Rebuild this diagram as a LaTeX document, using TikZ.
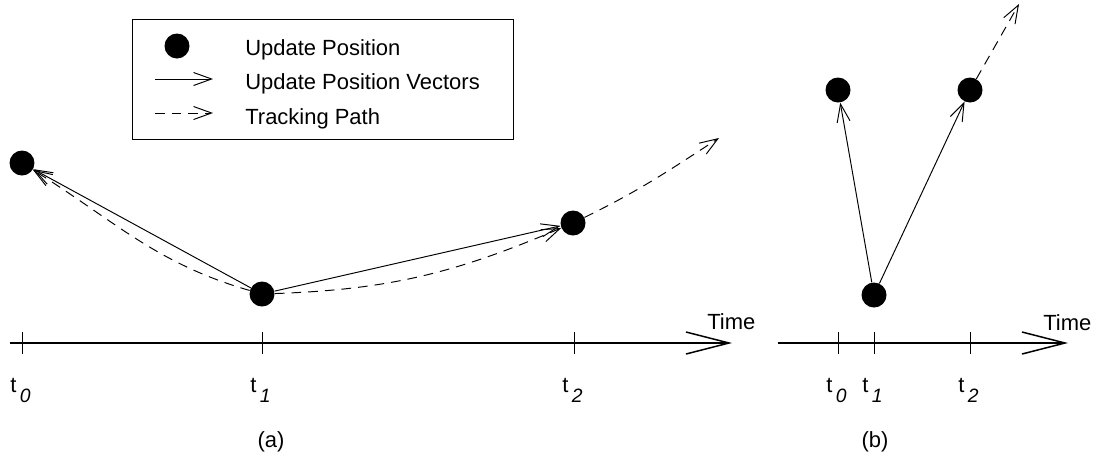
\documentclass[tikz,border=0pt]{standalone}
\usepackage{fontspec}
\setmainfont{Liberation Sans}
\usetikzlibrary{arrows.meta}

\begin{document}
\begin{tikzpicture}[
    x=0.02cm, y=-0.02cm,
    font=\fontsize{12.5}{15}\selectfont,
    dot/.style={circle, fill=black, inner sep=0pt, minimum size=0.5cm},
    vec/.style={-{Straight Barb[length=0.36cm, width=0.26cm]}, line width=0.55pt},
    track/.style={vec, dash pattern=on 5.5pt off 4pt},
    axis/.style={-{Straight Barb[length=0.86cm, width=0.44cm]}, line width=0.85pt},
    tick/.style={line width=0.55pt},
    leg/.style={anchor=base west, inner sep=0pt},
    tlabel/.style={anchor=base west, inner sep=0pt},
    figcap/.style={anchor=base, inner sep=0pt},
]
    \useasboundingbox (0,0) rectangle (1094,461);
    \newcommand{\tsub}[1]{t\kern2pt\raisebox{-6pt}{\fontsize{11}{13}\selectfont\itshape #1}}

    %==================== LEGEND ====================
    \node[draw, line width=0.55pt, minimum width=7.62cm, minimum height=2.4cm, anchor=north west,
          inner sep=0pt] (legend) at (132,19) {};
    \node[dot] (legdot) at (177,46) {};
    \coordinate (legvA) at (155,79);  \coordinate (legvB) at (213,79);
    \coordinate (legtA) at (155,113); \coordinate (legtB) at (213,113);
    \draw[vec] (legvA) -- (legvB);
    \draw[track] (legtA) -- (legtB);
    \node[leg] (legtxt1) at (245,55) {Update Position};
    \node[leg] (legtxt2) at (245,89.5) {Update Position Vectors};
    \node[leg] (legtxt3) at (245,124) {Tracking Path};

    %==================== (a) ====================
    \node[dot] (a0) at (22,163) {};
    \node[dot] (a1) at (262,294) {};
    \node[dot] (a2) at (573,223) {};
    \coordinate (aend) at (719,138);

    \draw[vec] (a1) -- (a0);
    \draw[vec] (a1) -- (a2);
    \draw[track] (a1) to[out=164, in=-32] (a0);
    \draw[track] (a1) to[out=2, in=-157] (a2);
    \draw[track] (a2) to[out=26, in=-147] (aend);

    % time axis
    \coordinate (axa0) at (10,343);
    \coordinate (axa1) at (732,343);
    \draw[axis] (axa0) -- (axa1);
    \node[tlabel] (timea) at (707,329) {Time};
    \foreach \x/\n in {22/0, 262/1, 574/2} {
        \draw[tick] (\x,332) -- (\x,354);
        \node[tlabel] (ta\n) at (\x-12,392) {\tsub{\n}};
    }
    \node[figcap] (capa) at (271,447) {(a)};

    %==================== (b) ====================
    \node[dot] (b0) at (838,90) {};
    \node[dot] (b1) at (874,295) {};
    \node[dot] (b2) at (970,90) {};
    \coordinate (bend) at (1019,4);

    \draw[vec] (b1) -- (b0);
    \draw[vec] (b1) -- (b2);
    \draw[track] (b2) -- (bend);

    % time axis
    \coordinate (axb0) at (778,343);
    \coordinate (axb1) at (1068,343);
    \draw[axis] (axb0) -- (axb1);
    \node[tlabel] (timeb) at (1043,330) {Time};
    \foreach \x/\n in {838/0, 874/1, 970/2} {
        \draw[tick] (\x,332) -- (\x,354);
        \node[tlabel] (tb\n) at (\x-12,392) {\tsub{\n}};
    }
    \node[figcap] (capb) at (875,447) {(b)};

\end{tikzpicture}
\end{document}
